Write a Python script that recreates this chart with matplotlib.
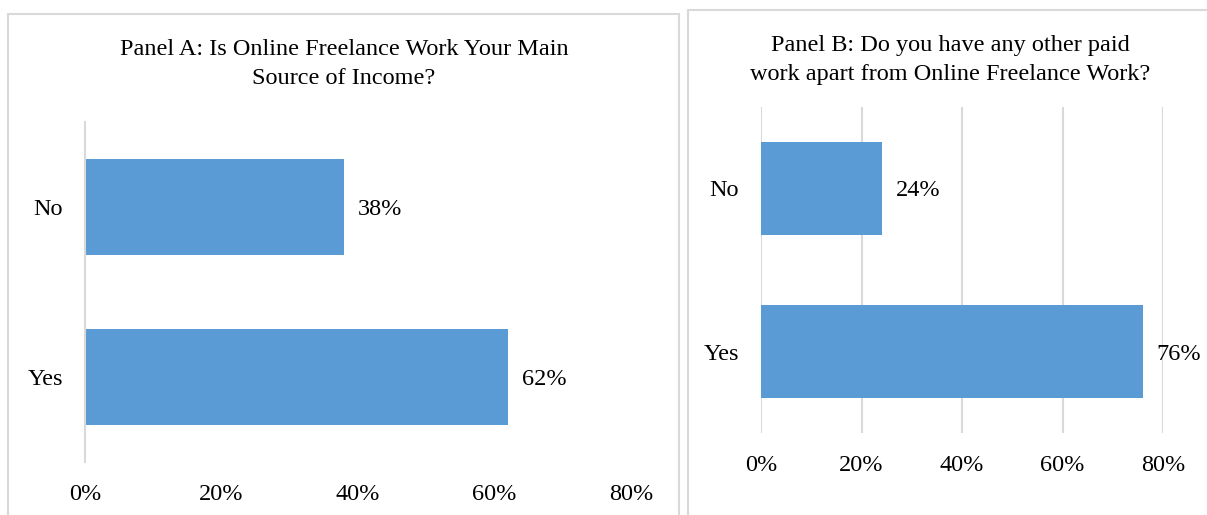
import matplotlib.pyplot as plt
from matplotlib.patches import Rectangle

plt.rcParams['font.family'] = 'Liberation Serif'

categories = ['Yes', 'No']
panel_a_values = [62, 38]
panel_b_values = [76, 24]
ticks = [0, 20, 40, 60, 80]
tick_labels = ['0%', '20%', '40%', '60%', '80%']

BAR = '#5B9BD5'
GRID = '#D9D9D9'
FS = 17.5
W, H = 1207, 515

fig = plt.figure(figsize=(W / 100, H / 100), dpi=100)


def px_axes(left, top, width, height):
    return fig.add_axes([left / W, (H - top - height) / H, width / W, height / H])


# panel frames
fig.patches.append(Rectangle((8 / W, -0.1), 671 / W, (H - 14) / H + 0.1, transform=fig.transFigure,
                             fill=False, edgecolor=GRID, linewidth=1.5))
fig.patches.append(Rectangle((688 / W, -0.1), 0.5, (H - 10) / H + 0.1, transform=fig.transFigure,
                             fill=False, edgecolor=GRID, linewidth=1.5))


def draw_panel(ax, values, grid):
    y = range(len(categories))
    ax.barh(y, values, height=0.57, color=BAR)
    ax.set_xlim(0, 80)
    ax.set_ylim(-0.5, len(categories) - 0.5)
    ax.set_xticks(ticks)
    ax.set_xticklabels(tick_labels)
    ax.set_yticks(list(y))
    ax.set_yticklabels(categories, va='center_baseline')
    ax.tick_params(length=0, labelsize=FS, pad=16)
    ax.tick_params(axis='y', pad=16)
    for s in ax.spines.values():
        s.set_visible(False)
    if grid:
        ax.xaxis.grid(True, color=GRID, linewidth=1.5)
        ax.set_axisbelow(True)
    else:
        ax.spines['left'].set_visible(True)
        ax.spines['left'].set_color(GRID)
        ax.spines['left'].set_linewidth(1.5)
    for yi, v in zip(y, values):
        ax.annotate(f'{v}%', (v, yi), xytext=(10, 0), textcoords='offset points',
                    va='center_baseline', ha='left', fontsize=FS)


ax1 = px_axes(85, 122, 546, 340)
draw_panel(ax1, panel_a_values, grid=False)
fig.text(344 / W, 1 - 64 / H, 'Panel A: Is Online Freelance Work Your Main\nSource of Income?',
         ha='center', va='center', fontsize=FS, linespacing=1.45)

ax2 = px_axes(761, 107, 402, 326)
draw_panel(ax2, panel_b_values, grid=True)
fig.text(950 / W, 1 - 60 / H, 'Panel B: Do you have any other paid\nwork apart from Online Freelance Work?',
         ha='center', va='center', fontsize=FS, linespacing=1.45)

fig.savefig('out.png', dpi=100)
